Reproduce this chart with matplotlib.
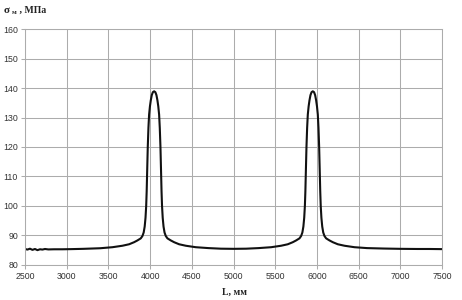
import numpy as np
import matplotlib
matplotlib.use("Agg")
import matplotlib.pyplot as plt

# length along the beam, mm  (one line per stretch of the curve)
L_mm = [2500, 2530, 2560, 2590, 2620, 2650, 2680, 2710, 2740, 2780, 2850, 2950, 3050, 3200, 3400,
        3548, 3668, 3748, 3808, 3848, 3888, 3908, 3923, 3935, 3945, 3953, 3959, 3965, 3972, 3980, 3988, 3998, 4008, 4020, 4033,
        4048,
        4063, 4076, 4088, 4098, 4108, 4116, 4124, 4131, 4137, 4143, 4151, 4161, 4173, 4188, 4208, 4248, 4288, 4348, 4428, 4548,
        4700, 4850, 5000, 5150, 5300,
        5450, 5570, 5650, 5710, 5750, 5790, 5810, 5825, 5837, 5847, 5855, 5861, 5867, 5874, 5882, 5890, 5900, 5910, 5922, 5935,
        5950,
        5965, 5978, 5990, 6000, 6010, 6018, 6026, 6033, 6039, 6045, 6053, 6063, 6075, 6090, 6110, 6150, 6190, 6250, 6330, 6450,
        6600, 6800, 7000, 7200, 7350, 7500]
# stress, MPa
sigma = [85.4, 85.2, 85.5, 85.1, 85.4, 85.0, 85.3, 85.2, 85.4, 85.25, 85.3, 85.3, 85.35, 85.45, 85.65,
         86.0, 86.5, 87.0, 87.7, 88.3, 89.0, 89.8, 91.0, 93.0, 96.0, 100.0, 105.0, 112.0, 120.0, 126.5, 131.0, 133.8, 135.8, 137.6, 138.6,
         138.9,
         138.6, 137.6, 135.8, 133.8, 131.0, 126.5, 120.0, 112.0, 105.0, 100.0, 96.0, 93.0, 91.0, 89.8, 89.0, 88.3, 87.7, 87.0, 86.5, 86.0,
         85.7, 85.5, 85.45, 85.5, 85.7,
         86.0, 86.5, 87.0, 87.7, 88.3, 89.0, 89.8, 91.0, 93.0, 96.0, 100.0, 105.0, 112.0, 120.0, 126.5, 131.0, 133.8, 135.8, 137.6, 138.6,
         138.9,
         138.6, 137.6, 135.8, 133.8, 131.0, 126.5, 120.0, 112.0, 105.0, 100.0, 96.0, 93.0, 91.0, 89.8, 89.0, 88.3, 87.7, 87.0, 86.5, 86.0,
         85.7, 85.55, 85.45, 85.4, 85.4, 85.35]

x_ticks = np.arange(2500, 7501, 500)
y_ticks = np.arange(80, 161, 10)

fig = plt.figure(figsize=(4.62, 3.0), dpi=100)
ax = fig.add_axes([0.054, 0.117, 0.903, 0.786])

ax.plot(L_mm, sigma, color="#111111", lw=1.5, solid_joinstyle="round")

ax.set_xlim(2500, 7500)
ax.set_ylim(80, 160)
ax.set_xticks(x_ticks)
ax.set_yticks(y_ticks)
ax.grid(True, color="#acacac", lw=0.75)
ax.set_axisbelow(True)
for s in ax.spines.values():
    s.set_color("#acacac")
    s.set_linewidth(0.75)
ax.tick_params(axis="both", colors="#acacac", length=3, width=0.75,
               labelcolor="#333333", labelsize=6.3, pad=2)
for lab in ax.get_xticklabels() + ax.get_yticklabels():
    lab.set_family("Liberation Sans")

# axis titles
title_kw = dict(fontweight="bold", family="Liberation Serif", color="#222222")
fig.text(0.008, 0.965, "σ", fontsize=8, va="center", **title_kw)
fig.text(0.025, 0.958, "м", fontsize=5, va="center", **title_kw)
fig.text(0.037, 0.965, " , МПа", fontsize=7, va="center", **title_kw)
fig.text(0.508, 0.027, "L, мм", fontsize=7, ha="center", va="center", **title_kw)

fig.savefig("out.png", dpi=100)
